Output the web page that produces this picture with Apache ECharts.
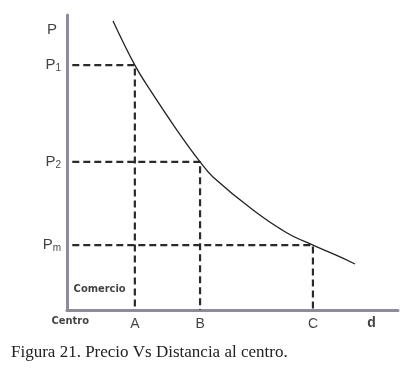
<!DOCTYPE html>
<html><head><meta charset="utf-8">
<script src="https://cdn.jsdelivr.net/npm/echarts@6/dist/echarts.min.js"></script>
<style>html,body{margin:0;padding:0;background:#fff}#c{width:414px;height:375px}</style>
</head><body><div id="c"></div>
<script>
// Curve: price vs distance from centre (arbitrary units)
const curveX = [1.39, 2.05, 2.51, 3.32, 4.02, 4.41, 5.62, 6.65, 7.43, 8.25, 8.7];
const curveY = [9.8, 8.3, 7.46, 6.1, 5.02, 4.51, 3.39, 2.61, 2.2, 1.8, 1.56];
// Reference points
const refNames = ['A', 'B', 'C'];
const refX = [2.05, 4.02, 7.43];
const refPriceNames = ['1', '2', 'm'];
const refY = [8.3, 5.02, 2.2];
const xMax = 10, yMax = 10;

const condensed = '"DejaVu Sans Condensed", "Liberation Sans Narrow", "Arial Narrow", sans-serif';
const chart = echarts.init(document.getElementById('c'));
const curve = curveX.map((x, i) => [x, curveY[i]]);
const guides = refX.map((x, i) => ({
  type: 'line', data: [[0.16, refY[i]], [x, refY[i]], [x, 0]],
  symbol: 'none', silent: true,
  lineStyle: { color: '#2a2a2a', width: 2.2, type: [7, 4] }
}));
const labelSeries = {
  type: 'scatter', symbolSize: 0, silent: true,
  data: [
    ...refY.map((y, i) => ({ value: [0, y], label: { show: true, position: 'left', distance: 6,
      formatter: '{p|P}{s|' + refPriceNames[i] + '}', rich: {
        p: { fontFamily: 'Liberation Sans', fontSize: 15, color: '#111' },
        s: { fontFamily: 'Liberation Sans', fontSize: 10, color: '#111', verticalAlign: 'bottom', padding: [6, 0, 0, 0] } } } })),
    { value: [0, 9.5], label: { show: true, position: 'left', distance: 10, formatter: 'P',
      fontFamily: 'Liberation Sans', fontSize: 15, color: '#111' } },
    ...refX.map((x, i) => ({ value: [x, 0], label: { show: true, position: 'bottom', distance: 7,
      formatter: refNames[i], fontFamily: 'Liberation Sans', fontSize: 14, color: '#111' } })),
    { value: [0.1, 0], label: { show: true, position: 'bottom', distance: 6, formatter: 'Centro',
      fontFamily: condensed, fontWeight: 'bold', fontSize: 11, color: '#111' } },
    { value: [9.2, 0], label: { show: true, position: 'bottom', distance: 6, formatter: 'd',
      fontFamily: 'Liberation Sans', fontWeight: 'bold', fontSize: 14, color: '#111' } },
    { value: [0.2, 0.7], label: { show: true, position: 'right', distance: 0, formatter: 'Comercio',
      fontFamily: condensed, fontWeight: 'bold', fontSize: 11, color: '#111' } }
  ]
};
chart.setOption({
  animation: false,
  title: { text: 'Figura 21. Precio Vs Distancia al centro.', left: 6, top: 339,
    textStyle: { fontFamily: 'Liberation Serif', fontWeight: 'normal', fontSize: 17, color: '#222' } },
  grid: { left: 67, right: 16, top: 15, bottom: 65 },
  xAxis: { type: 'value', min: 0, max: xMax, axisLine: { show: true, lineStyle: { color: '#8e8c9c', width: 3 } },
    axisTick: { show: false }, axisLabel: { show: false }, splitLine: { show: false } },
  yAxis: { type: 'value', min: 0, max: yMax, axisLine: { show: true, lineStyle: { color: '#8e8c9c', width: 3 } },
    axisTick: { show: false }, axisLabel: { show: false }, splitLine: { show: false } },
  series: [
    ...guides,
    { type: 'line', data: curve, smooth: 0.4, symbol: 'none', silent: true, z: 5,
      lineStyle: { color: '#222', width: 1.3 } },
    labelSeries
  ]
});
</script></body></html>
